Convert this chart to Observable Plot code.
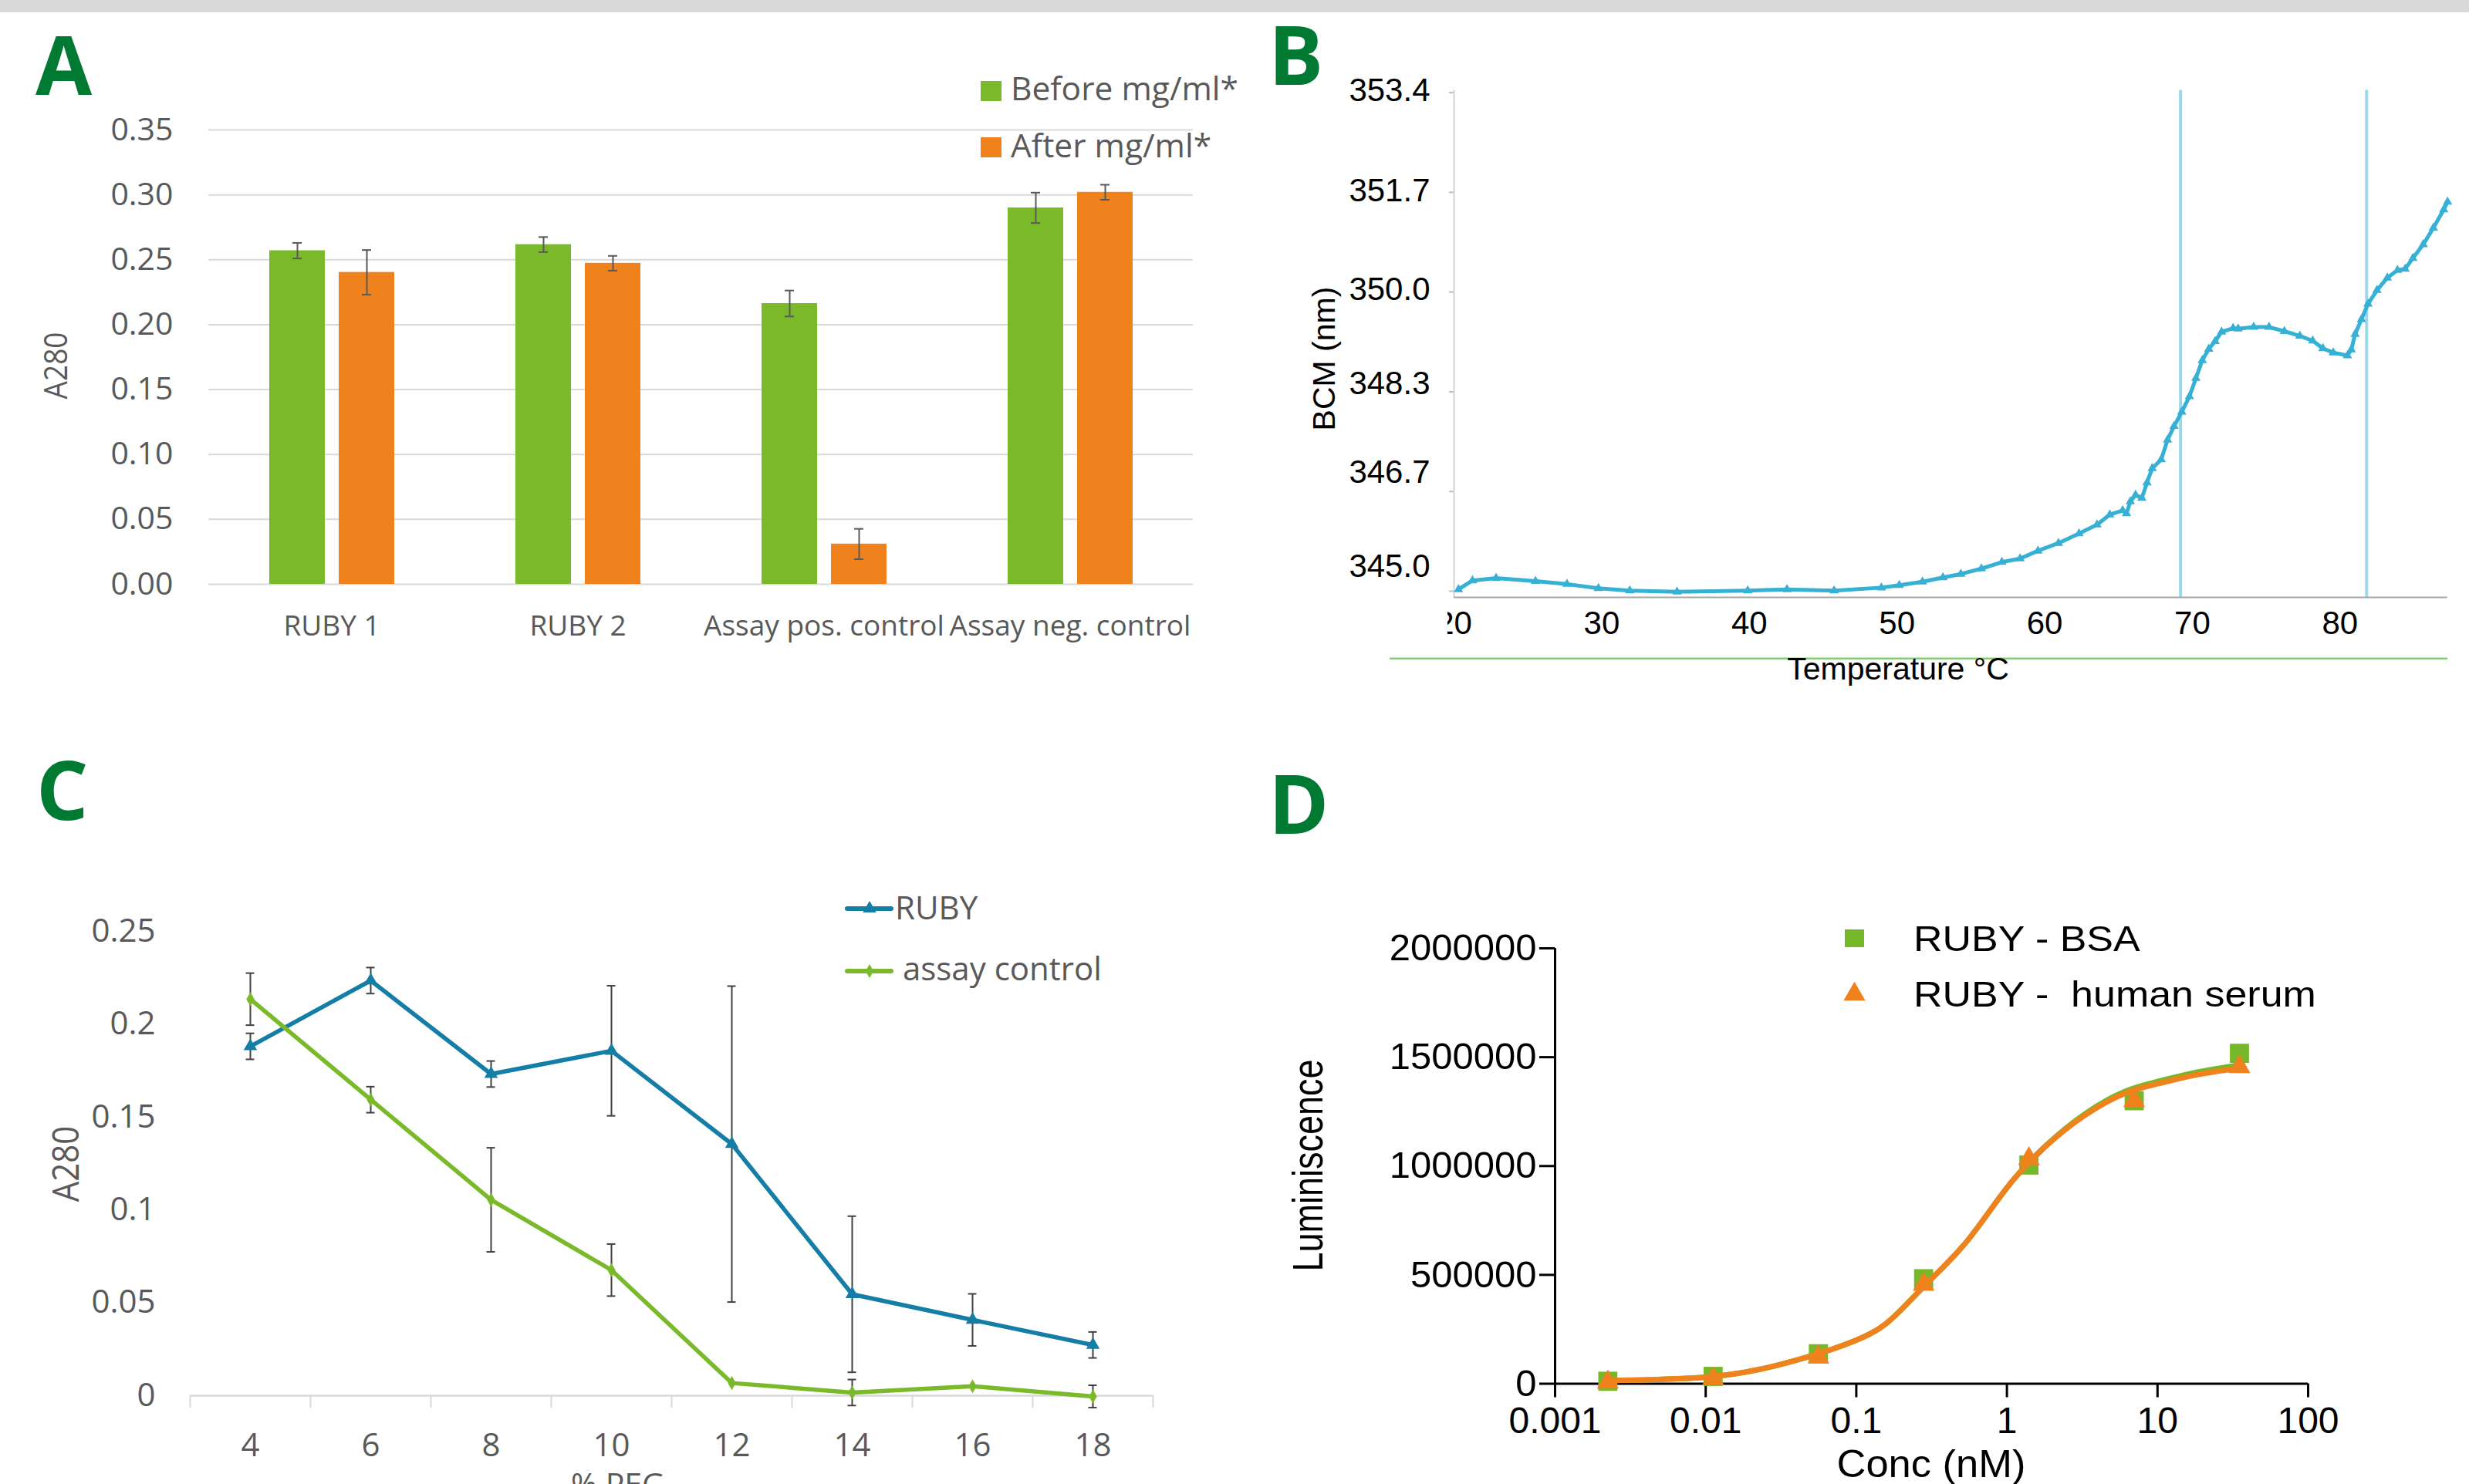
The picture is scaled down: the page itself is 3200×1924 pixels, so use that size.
<!DOCTYPE html>
<html>
<head>
<meta charset="utf-8">
<script src="https://cdn.jsdelivr.net/npm/d3@7"></script>
<script src="https://cdn.jsdelivr.net/npm/@observablehq/plot@0.6"></script>
<style>
html, body { margin: 0; padding: 0; background: #ffffff; }
body { width: 3200px; height: 1924px; position: relative; overflow: hidden; }
.panel { position: absolute; }
</style>
</head>
<body>
<div id="pA" class="panel" style="left:0;top:0"></div>
<div id="pB" class="panel" style="left:1600px;top:0"></div>
<div id="pC" class="panel" style="left:0;top:940px"></div>
<div id="pD" class="panel" style="left:1600px;top:940px"></div>
<script>
// ================= DATA =================
// Panel A
const catsA = ["RUBY 1", "RUBY 2", "Assay pos. control", "Assay neg. control"];
const seriesA = ["Before mg/ml*", "After mg/ml*"];
const colorsA = ["#7ab929", "#f0821e"];
const beforeA = [0.257, 0.2617, 0.2163, 0.290];
const beforeErrA = [0.006, 0.0058, 0.010, 0.0117];
const afterA = [0.2403, 0.2473, 0.031, 0.302];
const afterErrA = [0.0172, 0.0057, 0.0117, 0.0058];
const yTicksA = [0, 0.05, 0.10, 0.15, 0.20, 0.25, 0.30, 0.35];

// Panel B
const tempB = [20.30, 21.25, 22.85, 25.52, 27.65, 29.78, 31.90, 35.10, 39.89, 42.55, 45.74, 48.94, 50.15, 51.72, 53.11, 54.32, 55.71, 57.10, 58.33, 59.54, 60.93, 62.32, 63.54, 64.41, 65.28, 65.54, 65.80, 66.15, 66.58, 66.93, 67.28, 67.89, 68.32, 68.76, 69.28, 69.80, 70.24, 70.67, 71.11, 71.54, 71.98, 72.76, 73.10, 74.15, 75.19, 76.23, 77.28, 78.15, 78.84, 79.54, 80.50, 80.76, 81.02, 81.45, 81.89, 82.50, 83.20, 83.89, 84.41, 84.93, 85.63, 86.32, 87.02, 87.28];
const bcmB = [345.03, 345.18, 345.22, 345.17, 345.12, 345.05, 345.01, 344.99, 345.01, 345.03, 345.01, 345.06, 345.10, 345.16, 345.23, 345.29, 345.38, 345.49, 345.55, 345.68, 345.81, 345.97, 346.12, 346.29, 346.36, 346.31, 346.51, 346.62, 346.57, 346.83, 347.07, 347.22, 347.55, 347.78, 348.02, 348.28, 348.59, 348.89, 349.08, 349.21, 349.37, 349.43, 349.42, 349.45, 349.45, 349.38, 349.30, 349.22, 349.09, 349.02, 348.97, 349.07, 349.33, 349.58, 349.84, 350.07, 350.28, 350.41, 350.43, 350.61, 350.84, 351.12, 351.43, 351.56];
const xDomainB = [20, 87.28];
const yDomainB = [344.896, 353.44];
const xTicksB = [20, 30, 40, 50, 60, 70, 80];
const yTicksB = [345.0, 346.68, 348.36, 350.04, 351.72, 353.4];
const yTickLabelsB = ["345.0", "346.7", "348.3", "350.0", "351.7", "353.4"];
const yTickLabelPosB = [345.42, 347.0, 348.5, 350.08, 351.75, 353.43];
const vLinesB = [69.2, 81.8];

// Panel C
const pegC = [4, 6, 8, 10, 12, 14, 16, 18];
const seriesC = ["RUBY", "assay control"];
const colorsC = ["#157ea6", "#7ab929"];
const rubyC = [0.188, 0.2234, 0.1731, 0.1856, 0.1354, 0.0546, 0.0408, 0.0273];
const rubyErrC = [0.007, 0.007, 0.007, 0.035, 0.085, 0.042, 0.014, 0.007];
const ctrlC = [0.2134, 0.1593, 0.1054, 0.0676, 0.0068, 0.0017, 0.0051, -0.0004];
const ctrlErrC = [0.014, 0.007, 0.028, 0.014, 0, 0.007, 0, 0.006];
const xDomainC = [3, 19];
const xBoundsC = [3, 5, 7, 9, 11, 13, 15, 17, 19];
const yTicksC = [0, 0.05, 0.1, 0.15, 0.2, 0.25];
const yTickLabelsC = ["0", "0.05", "0.1", "0.15", "0.2", "0.25"];

// Panel D
const concD = [0.00224, 0.0112, 0.056, 0.28, 1.4, 7, 35];
const bsaD = [11300, 33600, 137700, 482300, 1004600, 1300000, 1517700];
const serumD = [7000, 22300, 122000, 455800, 1033000, 1300000, 1455700];
const fitConcD = [0.00216, 0.01, 0.0316, 0.1, 0.18, 0.3, 0.545, 1, 1.8, 3.3, 6.04, 10, 17.9, 36.6];
const fitBsaD = [14000, 30000, 89000, 200000, 311000, 467000, 656000, 900000, 1092000, 1240000, 1342000, 1388000, 1430000, 1466000];
const fitSerumD = [14000, 30000, 88900, 200000, 311300, 466700, 655800, 900100, 1088900, 1233300, 1333200, 1377800, 1418200, 1452000];
const xTicksD = [0.001, 0.01, 0.1, 1, 10, 100];
const xTickLabelsD = ["0.001", "0.01", "0.1", "1", "10", "100"];
const yTicksD = [0, 500000, 1000000, 1500000, 2000000];
const greenD = "#77b82a", orangeD = "#f0821e";

// ================= PANEL A =================
const dataA = catsA.flatMap((c, i) => [
  {cat: c, series: seriesA[0], v: beforeA[i], e: beforeErrA[i]},
  {cat: c, series: seriesA[1], v: afterA[i], e: afterErrA[i]}
]);
const plotA = Plot.plot({
  width: 1600, height: 880,
  marginLeft: 270, marginRight: 54, marginTop: 168, marginBottom: 123,
  style: {fontFamily: "'Open Sans', sans-serif", fontSize: "41px", color: "#595959", background: "transparent"},
  fx: {domain: catsA, padding: 0, label: null},
  x: {domain: seriesA, paddingInner: 0.2, paddingOuter: 0.872, axis: null},
  y: {domain: [0, 0.35], ticks: yTicksA, tickFormat: d3.format(".2f"), tickSize: 0, tickPadding: 46, label: null},
  color: {domain: seriesA, range: colorsA},
  marks: [
    Plot.axisFx({anchor: "bottom", tickSize: 0, tickPadding: 40, fontSize: 37, label: null}),
    Plot.gridY(yTicksA, {stroke: "#d9d9d9", strokeOpacity: 1, strokeWidth: 2}),
    Plot.barY(dataA, {fx: "cat", x: "series", y: "v", fill: "series"}),
    Plot.ruleX(dataA, {fx: "cat", x: "series", y1: d => d.v - d.e, y2: d => d.v + d.e, stroke: "#595959", strokeWidth: 2}),
    Plot.tickY(dataA, {fx: "cat", x: "series", y: d => d.v - d.e, stroke: "#595959", strokeWidth: 2, insetLeft: 30, insetRight: 30}),
    Plot.tickY(dataA, {fx: "cat", x: "series", y: d => d.v + d.e, stroke: "#595959", strokeWidth: 2, insetLeft: 30, insetRight: 30})
  ]
});
document.getElementById("pA").appendChild(plotA);

// ================= PANEL B =================
const dataB = tempB.map((t, i) => ({t, v: bcmB[i]}));
const yLabB = yTickLabelsB.map((s, i) => ({s, p: yTickLabelPosB[i]}));
const plotB = Plot.plot({
  width: 1600, height: 880,
  marginLeft: 284, marginRight: 28.3, marginTop: 116.5, marginBottom: 106,
  style: {fontFamily: "'Liberation Sans', Arial, sans-serif", fontSize: "42px", color: "#000000", background: "transparent"},
  x: {domain: xDomainB},
  y: {domain: yDomainB},
  marks: [
    Plot.ruleX(vLinesB, {stroke: "#9dd7ea", strokeWidth: 4}),
    Plot.axisX({ticks: xTicksB, tickSize: 0, tickPadding: 18, label: null}),
    Plot.axisY({ticks: yTicksB, tickSize: 6, tickFormat: () => "", stroke: "#bfbfbf", strokeWidth: 2, label: null}),
    Plot.text(yLabB, {y: "p", text: "s", frameAnchor: "left", textAnchor: "end", dx: -31, fill: "#000"}),
    Plot.ruleX([xDomainB[0]], {stroke: "#d4d4d4", strokeWidth: 2}),
    Plot.ruleY([yDomainB[0]], {stroke: "#a6a6a6", strokeWidth: 2}),
    Plot.line(dataB, {x: "t", y: "v", stroke: "#36b0d4", strokeWidth: 5}),
    Plot.dot(dataB, {x: "t", y: "v", symbol: "triangle", r: 4.5, fill: "#36b0d4"})
  ]
});
document.getElementById("pB").appendChild(plotB);

// ================= PANEL C =================
const dataC = [
  ...pegC.map((p, i) => ({peg: p, series: seriesC[0], v: rubyC[i], e: rubyErrC[i]})),
  ...pegC.map((p, i) => ({peg: p, series: seriesC[1], v: ctrlC[i], e: ctrlErrC[i]}))
];
const errC = dataC.filter(d => d.e > 0);
const capC = 0.07;
const yLabMapC = new Map(yTicksC.map((t, i) => [t, yTickLabelsC[i]]));
const plotC = Plot.plot({
  width: 1600, height: 984,
  marginLeft: 246, marginRight: 106, marginTop: 266.7, marginBottom: 115,
  style: {fontFamily: "'Open Sans', sans-serif", fontSize: "42px", color: "#595959", background: "transparent"},
  x: {domain: xDomainC},
  y: {domain: [0, 0.25]},
  color: {domain: seriesC, range: colorsC},
  marks: [
    Plot.axisY({ticks: yTicksC, tickFormat: d => yLabMapC.get(d), tickSize: 0, tickPadding: 45, label: null}),
    Plot.axisX({ticks: xBoundsC, tickFormat: () => "", tickSize: 16, stroke: "#d9d9d9", strokeWidth: 2, label: null}),
    Plot.axisX({ticks: pegC, tickSize: 0, tickPadding: 49, label: null}),
    Plot.ruleY([0], {stroke: "#d9d9d9", strokeWidth: 2.5}),
    Plot.line(dataC, {x: "peg", y: "v", stroke: "series", strokeWidth: 5.5}),
    Plot.ruleX(errC, {x: "peg", y1: d => d.v - d.e, y2: d => d.v + d.e, stroke: "#404040", strokeWidth: 2}),
    Plot.ruleY(errC, {y: d => d.v - d.e, x1: d => d.peg - capC, x2: d => d.peg + capC, stroke: "#404040", strokeWidth: 2}),
    Plot.ruleY(errC, {y: d => d.v + d.e, x1: d => d.peg - capC, x2: d => d.peg + capC, stroke: "#404040", strokeWidth: 2}),
    Plot.dot(dataC.filter(d => d.series === seriesC[0]), {x: "peg", y: "v", symbol: "triangle", r: 6.5, fill: colorsC[0]}),
    Plot.dot(dataC.filter(d => d.series === seriesC[1]), {x: "peg", y: "v", symbol: "diamond", r: 5.5, fill: colorsC[1]})
  ]
});
document.getElementById("pC").appendChild(plotC);

// ================= PANEL D =================
const bsaPts = concD.map((c, i) => ({c, v: bsaD[i]}));
const serPts = concD.map((c, i) => ({c, v: serumD[i]}));
const bsaFit = fitConcD.map((c, i) => ({c, v: fitBsaD[i]}));
const serFit = fitConcD.map((c, i) => ({c, v: fitSerumD[i]}));
const xLabMapD = new Map(xTicksD.map((t, i) => [t, xTickLabelsD[i]]));
const plotD = Plot.plot({
  width: 1600, height: 984,
  marginLeft: 415, marginRight: 209, marginTop: 289, marginBottom: 130.5,
  style: {fontFamily: "'Liberation Sans', Arial, sans-serif", fontSize: "48px", color: "#000000", background: "transparent"},
  x: {type: "log", domain: [0.001, 100]},
  y: {domain: [0, 2000000]},
  marks: [
    Plot.axisX({ticks: xTicksD, tickFormat: d => xLabMapD.get(d), tickSize: 18, tickPadding: 12, strokeWidth: 3, label: null}),
    Plot.axisY({ticks: yTicksD, tickFormat: d3.format("d"), tickSize: 20, tickPadding: 4, strokeWidth: 3, fontSize: 49, label: null}),
    Plot.ruleX([0.001], {stroke: "#000", strokeWidth: 3}),
    Plot.ruleY([0], {stroke: "#000", strokeWidth: 3}),
    Plot.line(bsaFit, {x: "c", y: "v", curve: "natural", stroke: greenD, strokeWidth: 7}),
    Plot.dot(bsaPts, {x: "c", y: "v", symbol: "square", r: 14, fill: greenD}),
    Plot.line(serFit, {x: "c", y: "v", curve: "natural", stroke: orangeD, strokeWidth: 7}),
    Plot.dot(serPts, {x: "c", y: "v", symbol: "triangle", r: 10.5, fill: orangeD})
  ]
});
document.getElementById("pD").appendChild(plotD);

// ================= OVERLAY: labels, titles, legends =================
const ov = d3.select("body").append("svg")
  .attr("width", 3200).attr("height", 1924)
  .style("position", "absolute").style("left", "0px").style("top", "0px");

ov.append("rect").attr("x", 0).attr("y", 0).attr("width", 3200).attr("height", 16).attr("fill", "#d9d9d9");

function txt(x, y, s, o = {}) {
  const t = ov.append("text").attr("x", 0).attr("y", 0).text(s)
    .attr("font-family", o.family || "'Open Sans', sans-serif")
    .attr("font-size", o.size || 41)
    .attr("font-weight", o.weight || 400)
    .attr("fill", o.fill || "#595959")
    .attr("text-anchor", o.anchor || "start")
    .style("white-space", "pre");
  const sx = o.sx || 1;
  t.attr("transform", `translate(${x},${y}) scale(${sx},1)` + (o.rotate ? " rotate(-90)" : ""));
  return t;
}
const ARIAL = "'Liberation Sans', Arial, sans-serif";
const panelLabels = [["A", 46, 123], ["B", 1644, 110], ["C", 47, 1063], ["D", 1644, 1081]];
panelLabels.forEach(([s, x, y]) => txt(x, y, s, {size: 106, weight: 700, fill: "#007a33"}));

// Panel A legend + axis title
ov.append("rect").attr("x", 1271).attr("y", 105).attr("width", 27).attr("height", 26).attr("fill", colorsA[0]);
txt(1310, 130, seriesA[0], {size: 42.5});
ov.append("rect").attr("x", 1271).attr("y", 178).attr("width", 27).attr("height", 26).attr("fill", colorsA[1]);
txt(1310, 204, seriesA[1], {size: 42.5});
txt(87, 474, "A280", {size: 37, anchor: "middle", rotate: true, sx: 1.15});

// Panel B titles
ov.append("rect").attr("x", 1820).attr("y", 782).attr("width", 56).attr("height", 50).attr("fill", "#ffffff");
ov.append("rect").attr("x", 1801).attr("y", 852.5).attr("width", 1371).attr("height", 2.5).attr("fill", "#86cc78");
txt(2460, 881, "Temperature \u00b0C", {family: ARIAL, size: 41, fill: "#000", anchor: "middle"});
txt(1730, 465, "BCM (nm)", {family: ARIAL, size: 41, fill: "#000", anchor: "middle", rotate: true});

// Panel C legend + titles
const sym = (type, r) => d3.symbol(type, Math.PI * r * r)();
ov.append("line").attr("x1", 1098).attr("x2", 1155).attr("y1", 1178).attr("y2", 1178)
  .attr("stroke", colorsC[0]).attr("stroke-width", 6).attr("stroke-linecap", "round");
ov.append("path").attr("d", sym(d3.symbolTriangle, 6.5)).attr("transform", "translate(1127,1178)").attr("fill", colorsC[0]);
txt(1160, 1192, seriesC[0], {size: 42});
ov.append("line").attr("x1", 1098).attr("x2", 1155).attr("y1", 1259).attr("y2", 1259)
  .attr("stroke", colorsC[1]).attr("stroke-width", 6).attr("stroke-linecap", "round");
ov.append("path").attr("d", sym(d3.symbolDiamond, 5.5)).attr("transform", "translate(1127,1259)").attr("fill", colorsC[1]);
txt(1170, 1271, seriesC[1], {size: 42});
txt(102, 1509, "A280", {size: 42, anchor: "middle", rotate: true, sx: 1.12});
txt(801, 1939, "% PEG", {size: 41, anchor: "middle"});

// Panel D legend + titles
ov.append("rect").attr("x", 2391).attr("y", 1205).attr("width", 25).attr("height", 23).attr("fill", greenD);
txt(2480, 1233, "RUBY - BSA", {family: ARIAL, size: 46, fill: "#000", sx: 1.13});
ov.append("path").attr("d", sym(d3.symbolTriangle, 10.5)).attr("transform", "translate(2403.5,1289)").attr("fill", orangeD);
txt(2480, 1305, "RUBY -  human serum", {family: ARIAL, size: 46, fill: "#000", sx: 1.13});
txt(2503, 1915, "Conc (nM)", {family: ARIAL, size: 50, fill: "#000", anchor: "middle", sx: 1.05});
txt(1714, 1511, "Luminiscence", {family: ARIAL, size: 45, fill: "#000", anchor: "middle", rotate: true, sx: 1.25});
</script>
</body>
</html>
